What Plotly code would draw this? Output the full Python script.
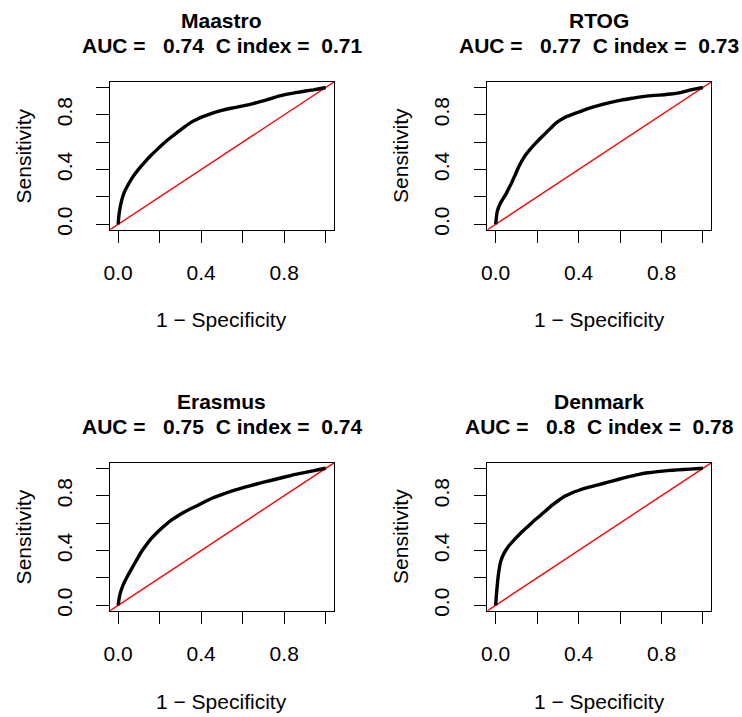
import plotly.graph_objects as go

W, H = 742, 717

# ---------------- data ----------------
centers = ["Maastro", "RTOG", "Erasmus", "Denmark"]
auc_values = ["0.74", "0.77", "0.75", "0.8"]
cindex_values = ["0.71", "0.73", "0.74", "0.78"]

maastro_fpr = [0.0, 0.005, 0.016, 0.030, 0.048, 0.070, 0.096, 0.128, 0.160, 0.192, 0.224, 0.256, 0.288, 0.320, 0.351, 0.383, 0.415, 0.455, 0.495, 0.550, 0.607, 0.655, 0.703, 0.743, 0.783, 0.823, 0.863, 0.903, 0.942, 0.971, 1.0]
maastro_tpr = [0.0, 0.080, 0.169, 0.235, 0.289, 0.345, 0.398, 0.455, 0.506, 0.553, 0.598, 0.638, 0.675, 0.712, 0.745, 0.770, 0.790, 0.812, 0.831, 0.850, 0.867, 0.884, 0.904, 0.922, 0.940, 0.953, 0.964, 0.974, 0.983, 0.991, 1.0]

rtog_fpr = [0.0, 0.008, 0.024, 0.048, 0.064, 0.080, 0.096, 0.112, 0.128, 0.144, 0.167, 0.191, 0.215, 0.239, 0.263, 0.287, 0.311, 0.335, 0.367, 0.399, 0.446, 0.494, 0.550, 0.606, 0.662, 0.718, 0.766, 0.813, 0.845, 0.877, 0.909, 0.941, 0.970, 1.0]
rtog_tpr = [0.0, 0.096, 0.157, 0.217, 0.265, 0.313, 0.368, 0.422, 0.467, 0.506, 0.550, 0.590, 0.627, 0.663, 0.699, 0.735, 0.761, 0.783, 0.802, 0.819, 0.845, 0.867, 0.889, 0.908, 0.922, 0.935, 0.942, 0.947, 0.952, 0.959, 0.970, 0.983, 0.992, 1.0]

erasmus_fpr = [0.0, 0.008, 0.024, 0.048, 0.064, 0.080, 0.096, 0.112, 0.136, 0.160, 0.184, 0.208, 0.232, 0.256, 0.287, 0.319, 0.351, 0.383, 0.415, 0.447, 0.495, 0.543, 0.591, 0.639, 0.687, 0.735, 0.783, 0.831, 0.879, 0.927, 0.963, 1.0]
erasmus_tpr = [0.0, 0.077, 0.150, 0.222, 0.265, 0.307, 0.350, 0.391, 0.442, 0.488, 0.526, 0.560, 0.592, 0.621, 0.652, 0.681, 0.706, 0.729, 0.754, 0.778, 0.806, 0.831, 0.853, 0.874, 0.893, 0.911, 0.929, 0.947, 0.963, 0.978, 0.989, 1.0]

denmark_fpr = [0.0, 0.005, 0.013, 0.024, 0.040, 0.064, 0.096, 0.120, 0.144, 0.175, 0.207, 0.239, 0.271, 0.303, 0.335, 0.367, 0.399, 0.446, 0.494, 0.542, 0.590, 0.638, 0.686, 0.734, 0.781, 0.829, 0.877, 0.938, 1.0]
denmark_tpr = [0.0, 0.101, 0.222, 0.319, 0.379, 0.435, 0.488, 0.526, 0.560, 0.603, 0.645, 0.687, 0.729, 0.765, 0.797, 0.820, 0.838, 0.860, 0.879, 0.899, 0.918, 0.937, 0.954, 0.967, 0.976, 0.983, 0.988, 0.994, 1.0]

fpr_list = [maastro_fpr, rtog_fpr, erasmus_fpr, denmark_fpr]
tpr_list = [maastro_tpr, rtog_tpr, erasmus_tpr, denmark_tpr]

tick_values = [0.0, 0.2, 0.4, 0.6, 0.8, 1.0]
tick_labels = ["0.0", "", "0.4", "", "0.8", ""]

ref_intercept = 0.0
ref_slope = 1.0

# ---------------- layout geometry (pixels) ----------------
AX_RANGE = [-0.04, 1.04]
col_px = [(104.7, 330.7), (485.3, 711.0)]
row_px = [(82.7, 231.7), (466.7, 616.0)]

FONT = "Liberation Sans, Arial, Helvetica, sans-serif"
NB = "\u00a0"

fig = go.Figure()
annotations = []

for i, name in enumerate(centers):
    r, c = divmod(i, 2)
    x0, x1 = col_px[c]
    y0, y1 = row_px[r]
    xa = "x" if i == 0 else f"x{i+1}"
    ya = "y" if i == 0 else f"y{i+1}"
    xkey = "xaxis" if i == 0 else f"xaxis{i+1}"
    ykey = "yaxis" if i == 0 else f"yaxis{i+1}"

    common = dict(
        range=AX_RANGE, showgrid=False, zeroline=False,
        showline=True, mirror=True, linecolor="black", linewidth=1.3,
        ticks="outside", ticklen=12.5, tickwidth=1.3, tickcolor="black",
        tickvals=tick_values, ticktext=tick_labels,
        tickfont=dict(family=FONT, size=21, color="black"),
        fixedrange=True,
    )
    fig.layout[xkey] = dict(common, domain=[x0 / W, x1 / W], anchor=ya,
                             ticklabelstandoff=11)
    fig.layout[ykey] = dict(common, domain=[1 - y1 / H, 1 - y0 / H], anchor=xa,
                             tickangle=-90, ticklabelstandoff=16)

    # reference line y = a + b x, across the full axis range
    rx = AX_RANGE
    ry = [ref_intercept + ref_slope * v for v in rx]
    fig.add_trace(go.Scatter(x=rx, y=ry, mode="lines", xaxis=xa, yaxis=ya,
                             line=dict(color="#FF0000", width=1.4),
                             hoverinfo="skip", showlegend=False))
    fig.add_trace(go.Scatter(x=fpr_list[i], y=tpr_list[i], mode="lines",
                             xaxis=xa, yaxis=ya, line=dict(color="black", width=3.4, shape="spline", smoothing=0.6),
                             showlegend=False, name=name))

    cx = (x0 + x1) / 2
    annotations.append(dict(text=f"<b>{name}</b>", x=cx / W, y=1 - (y0 - 62) / H,
                            xref="paper", yref="paper", xanchor="center", yanchor="middle",
                            showarrow=False, font=dict(family=FONT, size=21, color="black")))
    title2 = f"AUC ={NB*3}{auc_values[i]}{NB*2}C index ={NB*2}{cindex_values[i]}"
    annotations.append(dict(text=f"<b>{title2}</b>", x=cx / W, y=1 - (y0 - 37) / H,
                            xref="paper", yref="paper", xanchor="center", yanchor="middle",
                            showarrow=False, font=dict(family=FONT, size=21, color="black")))
    annotations.append(dict(text="1 \u2212 Specificity", x=cx / W, y=1 - (y1 + 91) / H,
                            xref="paper", yref="paper", xanchor="center", yanchor="middle",
                            showarrow=False, font=dict(family=FONT, size=21, color="black")))
    annotations.append(dict(text="Sensitivity", x=(x0 - 87) / W, y=1 - ((y0 + y1) / 2) / H,
                            xref="paper", yref="paper", xanchor="center", yanchor="middle",
                            textangle=-90,
                            showarrow=False, font=dict(family=FONT, size=21, color="black")))

fig.update_layout(
    width=W, height=H, margin=dict(l=0, r=0, t=0, b=0),
    paper_bgcolor="white", plot_bgcolor="white",
    annotations=annotations, showlegend=False,
)

fig.write_html("out.html", config={"displayModeBar": False},
               post_script="document.body.style.margin='0';document.body.style.overflow='hidden';")
